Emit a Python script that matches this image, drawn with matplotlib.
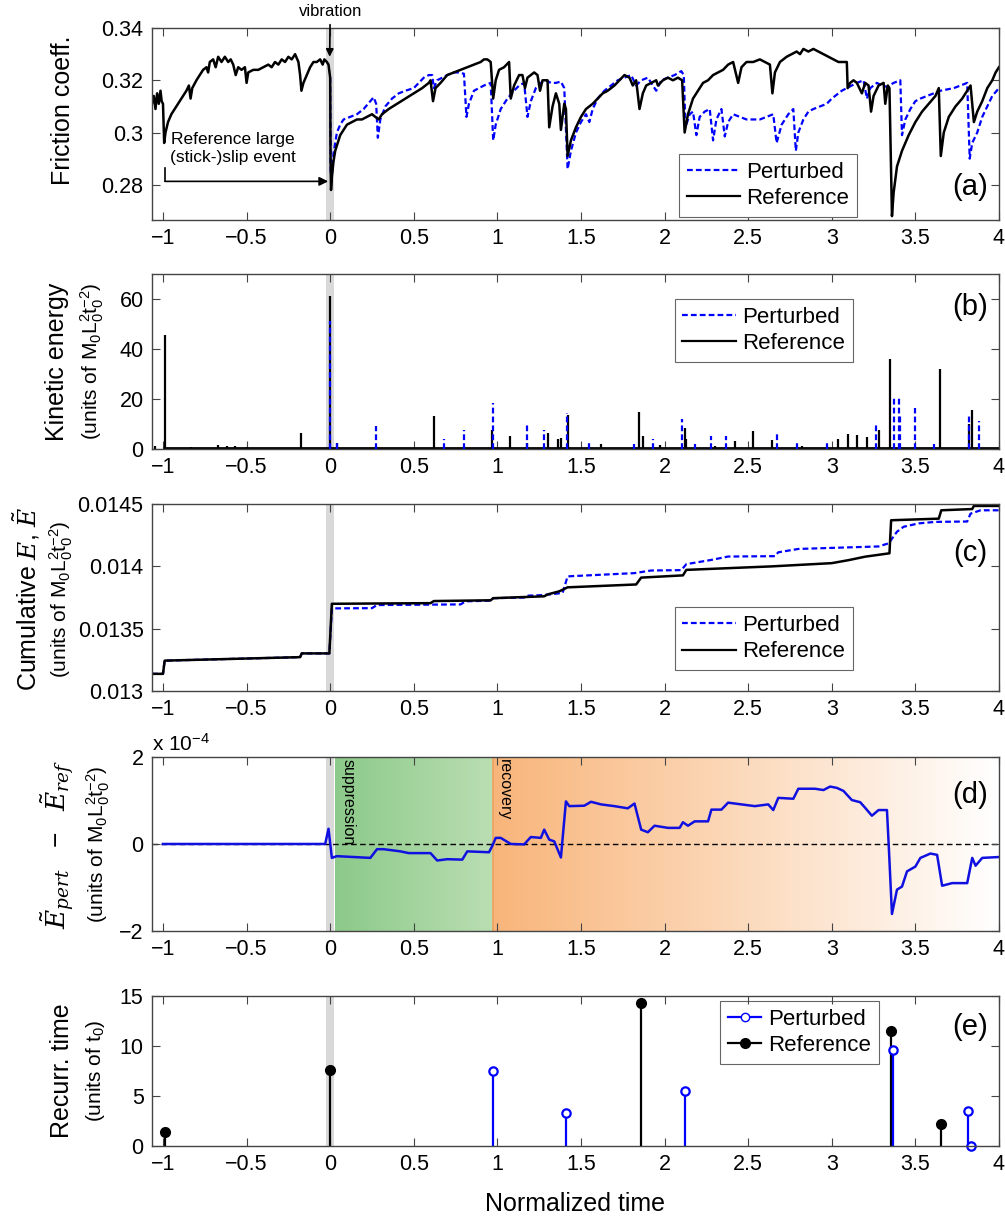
import numpy as np
import matplotlib
matplotlib.use("Agg")
import matplotlib.pyplot as plt
from matplotlib.lines import Line2D

plt.rcParams['font.family'] = ['Liberation Sans', 'DejaVu Sans']
plt.rcParams['mathtext.fontset'] = 'custom'
plt.rcParams['mathtext.rm'] = 'Liberation Sans'
plt.rcParams['mathtext.it'] = 'DejaVu Serif:italic'
plt.rcParams['mathtext.bf'] = 'Liberation Sans:bold'

# ---- (a) friction coefficient ----
fric_ref_t = [-1.066, -1.055, -1.045, -1.035, -1.025, -1.015, -1.008, -1.0, -0.993, -0.985, -0.97, -0.95, -0.93,
              -0.9, -0.88, -0.86, -0.845, -0.835, -0.825, -0.8, -0.78, -0.76, -0.74, -0.73, -0.72, -0.70, -0.685,
              -0.67, -0.65, -0.63, -0.61, -0.595, -0.58, -0.565, -0.55, -0.53, -0.51, -0.50, -0.49, -0.46, -0.43,
              -0.40, -0.37, -0.35, -0.33, -0.31, -0.29, -0.27, -0.25, -0.23, -0.21, -0.19, -0.18, -0.172, -0.16,
              -0.14, -0.12, -0.10, -0.08, -0.06, -0.045, -0.035, -0.02, -0.01, -0.004, 0.0, 0.002, 0.005, 0.01,
              0.02, 0.03, 0.045, 0.06, 0.08, 0.10, 0.13, 0.16, 0.19, 0.22, 0.25, 0.27, 0.29, 0.31, 0.35, 0.40,
              0.45, 0.50, 0.55, 0.59, 0.60, 0.615, 0.63, 0.66, 0.70, 0.74, 0.78, 0.82, 0.86, 0.90, 0.92, 0.94,
              0.96, 0.975, 0.99, 1.01, 1.04, 1.07, 1.08, 1.10, 1.13, 1.15, 1.165, 1.18, 1.22, 1.24, 1.255, 1.27,
              1.30, 1.31, 1.33, 1.35, 1.37, 1.38, 1.40, 1.41, 1.42, 1.44, 1.47, 1.50, 1.53, 1.57, 1.60, 1.63,
              1.66, 1.70, 1.73, 1.76, 1.79, 1.81, 1.83, 1.85, 1.87, 1.89, 1.92, 1.95, 1.96, 1.99, 2.02, 2.05,
              2.08, 2.105, 2.12, 2.14, 2.17, 2.20, 2.23, 2.26, 2.29, 2.32, 2.35, 2.38, 2.41, 2.44, 2.46, 2.49,
              2.53, 2.57, 2.60, 2.63, 2.645, 2.66, 2.69, 2.73, 2.76, 2.79, 2.81, 2.83, 2.86, 2.89, 2.92, 2.95,
              2.98, 3.01, 3.04, 3.07, 3.09, 3.095, 3.11, 3.13, 3.15, 3.165, 3.18, 3.20, 3.22, 3.235, 3.25, 3.28,
              3.31, 3.32, 3.335, 3.345, 3.36, 3.37, 3.39, 3.42, 3.46, 3.50, 3.54, 3.58, 3.62, 3.64, 3.652, 3.67,
              3.70, 3.74, 3.78, 3.81, 3.83, 3.85, 3.87, 3.90, 3.93, 3.96, 3.98, 4.0]
fric_ref = [0.311, 0.314, 0.309, 0.315, 0.311, 0.316, 0.312, 0.311, 0.296, 0.300, 0.304, 0.307, 0.309,
            0.312, 0.314, 0.316, 0.318, 0.313, 0.317, 0.320, 0.322, 0.324, 0.325, 0.323, 0.327, 0.328, 0.325,
            0.329, 0.327, 0.329, 0.327, 0.328, 0.326, 0.322, 0.325, 0.324, 0.325, 0.319, 0.323, 0.324, 0.324,
            0.325, 0.326, 0.325, 0.327, 0.326, 0.328, 0.327, 0.329, 0.328, 0.330, 0.327, 0.322, 0.316, 0.319,
            0.322, 0.325, 0.327, 0.327, 0.328, 0.326, 0.328, 0.327, 0.326, 0.323, 0.321, 0.290, 0.278, 0.283,
            0.289, 0.293, 0.296, 0.299, 0.301, 0.303, 0.304, 0.305, 0.305, 0.306, 0.307, 0.306, 0.305, 0.307,
            0.309, 0.311, 0.313, 0.315, 0.317, 0.319, 0.320, 0.312, 0.317, 0.319, 0.322, 0.323, 0.324, 0.325,
            0.326, 0.327, 0.328, 0.328, 0.327, 0.313, 0.320, 0.324, 0.325, 0.327, 0.313, 0.318, 0.322, 0.322,
            0.317, 0.321, 0.323, 0.322, 0.316, 0.320, 0.320, 0.302, 0.310, 0.315, 0.311, 0.301, 0.311, 0.309,
            0.291, 0.297, 0.302, 0.306, 0.309, 0.311, 0.313, 0.315, 0.316, 0.318, 0.320, 0.322, 0.321, 0.318,
            0.320, 0.309, 0.315, 0.318, 0.319, 0.320, 0.318, 0.320, 0.321, 0.320, 0.321, 0.320, 0.300, 0.307,
            0.313, 0.316, 0.319, 0.320, 0.322, 0.323, 0.324, 0.326, 0.327, 0.319, 0.325, 0.327, 0.327, 0.328,
            0.327, 0.326, 0.315, 0.323, 0.327, 0.329, 0.330, 0.331, 0.330, 0.332, 0.331, 0.332, 0.331, 0.330,
            0.329, 0.328, 0.327, 0.327, 0.327, 0.317, 0.319, 0.320, 0.319, 0.317, 0.315, 0.319, 0.318, 0.308,
            0.314, 0.318, 0.319, 0.311, 0.318, 0.317, 0.268, 0.277, 0.287, 0.293, 0.299, 0.304, 0.308, 0.311,
            0.314, 0.317, 0.291, 0.300, 0.306, 0.310, 0.313, 0.316, 0.318, 0.304, 0.308, 0.312, 0.317, 0.320,
            0.323, 0.325]

fric_pert_t = [0.0, 0.003, 0.008, 0.02, 0.04, 0.06, 0.08, 0.12, 0.16, 0.20, 0.24, 0.26, 0.275, 0.285, 0.30,
               0.33, 0.37, 0.41, 0.45, 0.50, 0.53, 0.56, 0.59, 0.61, 0.62, 0.64, 0.67, 0.70, 0.74, 0.77, 0.80,
               0.815, 0.83, 0.86, 0.89, 0.92, 0.96, 0.975, 0.99, 1.02, 1.06, 1.10, 1.13, 1.16, 1.18, 1.20, 1.23,
               1.26, 1.29, 1.32, 1.35, 1.38, 1.40, 1.42, 1.44, 1.47, 1.50, 1.53, 1.55, 1.57, 1.60, 1.64, 1.68,
               1.72, 1.76, 1.80, 1.83, 1.86, 1.90, 1.93, 1.95, 1.98, 2.02, 2.06, 2.10, 2.115, 2.125, 2.15, 2.17,
               2.19, 2.21, 2.24, 2.27, 2.29, 2.31, 2.34, 2.36, 2.38, 2.41, 2.45, 2.49, 2.53, 2.57, 2.61, 2.65,
               2.67, 2.70, 2.74, 2.77, 2.785, 2.80, 2.83, 2.86, 2.89, 2.93, 2.97, 3.00, 3.03, 3.06, 3.09, 3.12,
               3.15, 3.19, 3.21, 3.23, 3.27, 3.30, 3.33, 3.37, 3.41, 3.42, 3.44, 3.47, 3.50, 3.53, 3.57, 3.61,
               3.65, 3.69, 3.73, 3.77, 3.81, 3.825, 3.84, 3.87, 3.90, 3.93, 3.96, 4.0]
fric_pert = [0.321, 0.285, 0.282, 0.292, 0.300, 0.303, 0.305, 0.306, 0.307, 0.309, 0.312, 0.3135, 0.311, 0.298,
             0.305, 0.310, 0.313, 0.315, 0.316, 0.317, 0.319, 0.321, 0.322, 0.322, 0.317, 0.320, 0.321, 0.322,
             0.323, 0.323, 0.3225, 0.306, 0.311, 0.316, 0.317, 0.318, 0.319, 0.297, 0.303, 0.309, 0.313, 0.316,
             0.318, 0.319, 0.306, 0.312, 0.317, 0.319, 0.320, 0.319, 0.319, 0.3195, 0.317, 0.286, 0.293, 0.300,
             0.304, 0.307, 0.304, 0.309, 0.313, 0.316, 0.318, 0.320, 0.321, 0.322, 0.318, 0.320, 0.321, 0.318,
             0.316, 0.320, 0.321, 0.322, 0.3235, 0.322, 0.302, 0.307, 0.308, 0.299, 0.306, 0.308, 0.309, 0.297,
             0.305, 0.309, 0.2985, 0.304, 0.307, 0.306, 0.305, 0.305, 0.305, 0.306, 0.307, 0.296, 0.303, 0.307,
             0.309, 0.293, 0.300, 0.305, 0.308, 0.309, 0.310, 0.311, 0.313, 0.3145, 0.316, 0.317, 0.318, 0.319,
             0.320, 0.313, 0.317, 0.319, 0.318, 0.3175, 0.319, 0.320, 0.299, 0.305, 0.309, 0.312, 0.313, 0.314,
             0.315, 0.316, 0.3165, 0.317, 0.318, 0.319, 0.290, 0.296, 0.300, 0.306, 0.310, 0.314, 0.317]

# ---- (b) kinetic energy spikes ----
ke_ref_t = [-1.05, -0.99, -0.83, -0.67, -0.62, -0.57, -0.50, -0.30, -0.174, 0.0, 0.04, 0.618, 0.968, 1.078,
            1.18, 1.30, 1.36, 1.38, 1.423, 1.62, 1.846, 1.87, 1.97, 2.12, 2.13, 2.30, 2.42, 2.53, 2.64, 2.82,
            3.04, 3.10, 3.15, 3.21, 3.28, 3.35, 3.649, 3.82, 3.84]
ke_ref = [1.3, 45.5, 0.6, 1.5, 1.2, 1.3, 0.8, 0.4, 6.5, 61, 2.2, 13, 7.6, 5, 2.5, 6.5, 4, 4.5, 13.6, 2, 14.7, 5,
          1.5, 8.4, 4, 1, 3, 7, 3.5, 1, 4, 6, 5.7, 4.6, 7.5, 36, 32, 10, 15.6]
ke_pert_t = [0.0, 0.04, 0.274, 0.68, 0.80, 0.975, 1.178, 1.28, 1.414, 1.55, 1.82, 1.93, 2.106, 2.18, 2.28, 2.37,
             2.67, 2.79, 2.97, 3.263, 3.37, 3.40, 3.41, 3.50, 3.61, 3.82, 3.88]
ke_pert = [51, 2.5, 9, 4, 7.5, 18.5, 10.3, 7.5, 14.3, 3, 2, 4, 12, 2, 5.3, 5, 6.5, 3, 3, 10.3, 21, 21, 13.7,
           16.3, 2, 13.4, 11.2]

# ---- (c) cumulative energy ----
cum_ref_t = [-1.066, -1.0, -0.99, -0.18, -0.17, -0.005, 0.01, 0.60, 0.62, 0.96, 0.975, 1.28, 1.30, 1.37, 1.42,
             1.83, 1.86, 2.11, 2.13, 2.64, 3.0, 3.10, 3.20, 3.345, 3.355, 3.64, 3.655, 3.84, 3.85, 4.0]
cum_ref = [0.013138, 0.013138, 0.013244, 0.013272, 0.013302, 0.013302, 0.013700, 0.013705, 0.013722, 0.013728,
           0.013745, 0.013760, 0.013775, 0.013800, 0.013832, 0.013855, 0.013910, 0.013928, 0.013972, 0.014000,
           0.014026, 0.014050, 0.014078, 0.014105, 0.014370, 0.014383, 0.014450, 0.014460, 0.014485, 0.014485]
cum_pert_t = [-1.066, -1.0, -0.99, -0.18, -0.17, -0.005, 0.01, 0.25, 0.28, 0.78, 0.81, 0.96, 0.975, 1.16, 1.18,
              1.28, 1.39, 1.42, 1.82, 1.92, 2.10, 2.13, 2.28, 2.38, 2.66, 2.68, 2.80, 3.28, 3.34, 3.39, 3.43,
              3.52, 3.62, 3.81, 3.83, 3.89, 4.0]
cum_pert = [0.013138, 0.013138, 0.013244, 0.013272, 0.013302, 0.013302, 0.013663, 0.013665, 0.013690, 0.013695,
            0.013720, 0.013725, 0.013745, 0.013750, 0.013765, 0.013770, 0.013787, 0.013920, 0.013946, 0.013967,
            0.013970, 0.014018, 0.014052, 0.014079, 0.014082, 0.014113, 0.014140, 0.014160, 0.014185, 0.014278,
            0.014318, 0.014345, 0.014357, 0.014360, 0.014423, 0.014450, 0.014450]

# ---- (d) energy difference (x 1e-4) ----
de_t = [-1.0, -0.03, -0.01, 0.01, 0.04, 0.24, 0.28, 0.32, 0.42, 0.47, 0.60, 0.64, 0.70, 0.79, 0.82, 0.95, 0.97,
        0.99, 1.02, 1.08, 1.16, 1.20, 1.26, 1.28, 1.31, 1.34, 1.38, 1.41, 1.43, 1.52, 1.56, 1.62, 1.70, 1.78,
        1.82, 1.86, 1.90, 1.94, 2.02, 2.09, 2.11, 2.14, 2.18, 2.26, 2.28, 2.34, 2.38, 2.46, 2.54, 2.62, 2.65,
        2.68, 2.77, 2.80, 2.90, 2.95, 2.99, 3.03, 3.07, 3.12, 3.17, 3.20, 3.24, 3.28, 3.33, 3.34, 3.36, 3.39,
        3.42, 3.45, 3.50, 3.53, 3.59, 3.63, 3.66, 3.72, 3.81, 3.84, 3.86, 3.90, 4.0]
de = [0.0, 0.0, 0.35, -0.32, -0.28, -0.32, -0.12, -0.12, -0.17, -0.21, -0.21, -0.38, -0.35, -0.36, -0.17, -0.19,
      -0.04, 0.14, 0.14, 0.0, -0.01, 0.16, 0.14, 0.33, 0.10, 0.06, -0.31, 0.98, 0.87, 0.88, 0.97, 0.91, 0.87,
      0.82, 0.93, 0.33, 0.27, 0.42, 0.37, 0.37, 0.50, 0.42, 0.52, 0.52, 0.79, 0.79, 0.95, 0.91, 0.87, 0.91,
      0.78, 1.06, 1.04, 1.27, 1.27, 1.24, 1.32, 1.29, 1.22, 1.01, 0.96, 0.83, 0.65, 0.78, 0.78, 0.02, -1.61,
      -1.05, -0.98, -0.63, -0.52, -0.32, -0.22, -0.25, -0.96, -0.90, -0.90, -0.32, -0.50, -0.32, -0.30]

# ---- (e) recurrence times ----
rec_ref_t = [-0.99, 0.0, 1.86, 3.355, 3.654]
rec_ref = [1.4, 7.6, 14.3, 11.5, 2.2]
rec_pert_t = [0.974, 1.408, 2.122, 3.366, 3.816, 3.83]
rec_pert = [7.45, 3.25, 5.5, 9.55, 3.45, 0.0]

xticks = [-1, -0.5, 0, 0.5, 1, 1.5, 2, 2.5, 3, 3.5, 4]
xlim = (-1.066, 4.0)
vib_band = (-0.024, 0.024)

fig = plt.figure(figsize=(10.05, 12.19), dpi=100)
left, width = 0.1512, 0.8428
ax_a = fig.add_axes([left, 0.8195, width, 0.1575])
ax_b = fig.add_axes([left, 0.6317, width, 0.1436])
ax_c = fig.add_axes([left, 0.4331, width, 0.1534])
ax_d = fig.add_axes([left, 0.2363, width, 0.1427])
ax_e = fig.add_axes([left, 0.0599, width, 0.1231])

BLUE = '#0000ff'
dash = (0, (2.6, 1.4))


def style(ax):
    ax.set_xlim(*xlim)
    ax.set_xticks(xticks)
    ax.set_xticklabels([('%g' % v).replace('-', '\u2212') for v in xticks])
    ax.tick_params(direction='in', top=True, right=True, length=6, width=0.8,
                   labelsize=15.5, pad=6, color='#444444')
    for s in ax.spines.values():
        s.set_color('#444444')
        s.set_linewidth(1.0)
    ax.axvspan(*vib_band, color='#d9d9d9', lw=0, zorder=0.5)


def legend(ax, x0, y0, handles, loc='lower left', hl=2.4):
    leg = ax.legend(handles=handles, loc=loc, bbox_to_anchor=(x0, y0), fontsize=16, frameon=True,
                    fancybox=False, framealpha=1, edgecolor='#666666', handlelength=hl,
                    handletextpad=0.3, borderpad=0.35, labelspacing=0.25, borderaxespad=0)
    leg.get_frame().set_linewidth(0.8)
    return leg


def ylab(ax, x1, text1, x2=None, text2=None, y=0.5, fs1=18, fs2=15):
    ax.text(x1, y, text1, transform=ax.transAxes, rotation=90, ha='center', va='center', fontsize=fs1)
    if text2:
        ax.text(x2, y, text2, transform=ax.transAxes, rotation=90, ha='center', va='center', fontsize=fs2)


units = r'(units of M$_0$L$_0^2$t$_0^{-2}$)'
h_lines = [Line2D([], [], color=BLUE, lw=1.6, ls=dash, label='Perturbed'),
           Line2D([], [], color='black', lw=1.6, label='Reference')]

# (a)
ax = ax_a
style(ax)
ax.plot(fric_pert_t, fric_pert, color=BLUE, lw=1.6, ls=dash)
ax.plot(fric_ref_t, fric_ref, color='black', lw=1.8)
ax.set_ylim(0.2665, 0.34)
ax.set_yticks([0.28, 0.3, 0.32, 0.34])
ax.set_yticklabels(['0.28', '0.3', '0.32', '0.34'])
legend(ax, 0.622, 0.016, h_lines)
ax.text(0.966, 0.17, '(a)', transform=ax.transAxes, ha='center', va='center', fontsize=21)
ylab(ax, -0.105, 'Friction coeff.', y=0.57)
ax.annotate('vibration', xy=(-0.003, 0.329), xytext=(0.0, 0.3463), ha='center', va='center', fontsize=12,
            annotation_clip=False,
            arrowprops=dict(arrowstyle='-|>', color='black', lw=1.2, mutation_scale=11, shrinkA=2, shrinkB=0))
ax.text(-0.58, 0.2939, 'Reference large\n(stick-)slip event', ha='center', va='center', fontsize=12.5,
        linespacing=1.25)
ax.plot([-0.988, -0.988], [0.2866, 0.2813], color='black', lw=1.2)
ax.annotate('', xy=(-0.012, 0.2813), xytext=(-0.988, 0.2813),
            arrowprops=dict(arrowstyle='-|>', color='black', lw=1.2, mutation_scale=13, shrinkA=0, shrinkB=0))

# (b)
ax = ax_b
style(ax)
ax.hlines(0.25, -1.0, 4.0, color='black', lw=2.0, zorder=2)
ax.vlines(ke_pert_t, 0, ke_pert, color=BLUE, lw=1.6, linestyles=[dash], zorder=3)
ax.vlines(ke_ref_t, 0, ke_ref, color='black', lw=1.6, zorder=2.5)
ax.set_ylim(0, 70)
ax.set_yticks([0, 20, 40, 60])
legend(ax, 0.617, 0.857, h_lines, loc='upper left')
ax.text(0.966, 0.81, '(b)', transform=ax.transAxes, ha='center', va='center', fontsize=21)
ylab(ax, -0.112, 'Kinetic energy', -0.071, units)

# (c)
ax = ax_c
style(ax)
ax.plot(cum_pert_t, cum_pert, color=BLUE, lw=1.6, ls=dash)
ax.plot(cum_ref_t, cum_ref, color='black', lw=1.8)
ax.set_ylim(0.013, 0.0145)
ax.set_yticks([0.013, 0.0135, 0.014, 0.0145])
ax.set_yticklabels(['0.013', '0.0135', '0.014', '0.0145'])
legend(ax, 0.617, 0.112, h_lines)
ax.text(0.966, 0.74, '(c)', transform=ax.transAxes, ha='center', va='center', fontsize=21)
ylab(ax, -0.148, r'Cumulative $E$, $\tilde{E}$', -0.107, units, y=0.49)

# (d)
ax = ax_d
style(ax)
green = np.linspace([0.55, 0.79, 0.54], [0.73, 0.87, 0.70], 256)
ax.imshow(green[None, :, :], extent=[0.026, 0.974, -2, 2], aspect='auto', zorder=0.2)
orange = np.linspace([0.975, 0.71, 0.48], [1.0, 1.0, 1.0], 256)
ax.imshow(orange[None, :, :], extent=[0.974, 4.0, -2, 2], aspect='auto', zorder=0.2)
ax.axvline(0.974, color='#f0a060', lw=1.2, zorder=0.3)
ax.axhline(0, color='black', lw=1.0, ls=(0, (4, 2.5)), zorder=1)
ax.plot(de_t, de, color='#1010e0', lw=1.8, zorder=2)
ax.set_xlim(*xlim)
ax.set_ylim(-2, 2)
ax.set_yticks([-2, 0, 2])
ax.set_yticklabels(['\u22122', '0', '2'])
ax.text(0.0, 1.015, r'x 10$^{-4}$', transform=ax.transAxes, ha='left', va='bottom', fontsize=15)
ax.text(0.108, 1.96, 'suppression', rotation=270, ha='center', va='top', fontsize=11.5)
ax.text(1.04, 1.96, 'recovery', rotation=270, ha='center', va='top', fontsize=11.5)
ax.text(0.966, 0.78, '(d)', transform=ax.transAxes, ha='center', va='center', fontsize=21)
ylab(ax, -0.112, r'$\tilde{E}_{pert}\ \ -\ \ \tilde{E}_{ref}$', -0.063, units, y=0.5, fs1=19)

# (e)
ax = ax_e
style(ax)
ml, sl, bl = ax.stem(rec_ref_t, rec_ref, basefmt=' ')
plt.setp(sl, color='black', linewidth=1.6)
plt.setp(ml, color='black', markersize=7, clip_on=False)
ml, sl, bl = ax.stem(rec_pert_t, rec_pert, basefmt=' ')
plt.setp(sl, color=BLUE, linewidth=1.6)
plt.setp(ml, color=BLUE, markerfacecolor='white', markersize=6, markeredgewidth=1.6, clip_on=False)
ax.set_ylim(0, 15)
ax.set_yticks([0, 5, 10, 15])
h_e = [Line2D([], [], color=BLUE, lw=1.6, marker='o', markerfacecolor='white', markersize=6, label='Perturbed'),
       Line2D([], [], color='black', lw=1.6, marker='o', markersize=7, label='Reference')]
leg = legend(ax, 0.671, 0.967, h_e, loc='upper left', hl=1.5)
leg.set_zorder(1)
ax.text(0.966, 0.79, '(e)', transform=ax.transAxes, ha='center', va='center', fontsize=21)
ylab(ax, -0.106, 'Recurr. time', -0.067, r'(units of t$_0$)')
ax.set_xlabel('Normalized time', fontsize=18, labelpad=12)

fig.savefig('out.png', dpi=100)
